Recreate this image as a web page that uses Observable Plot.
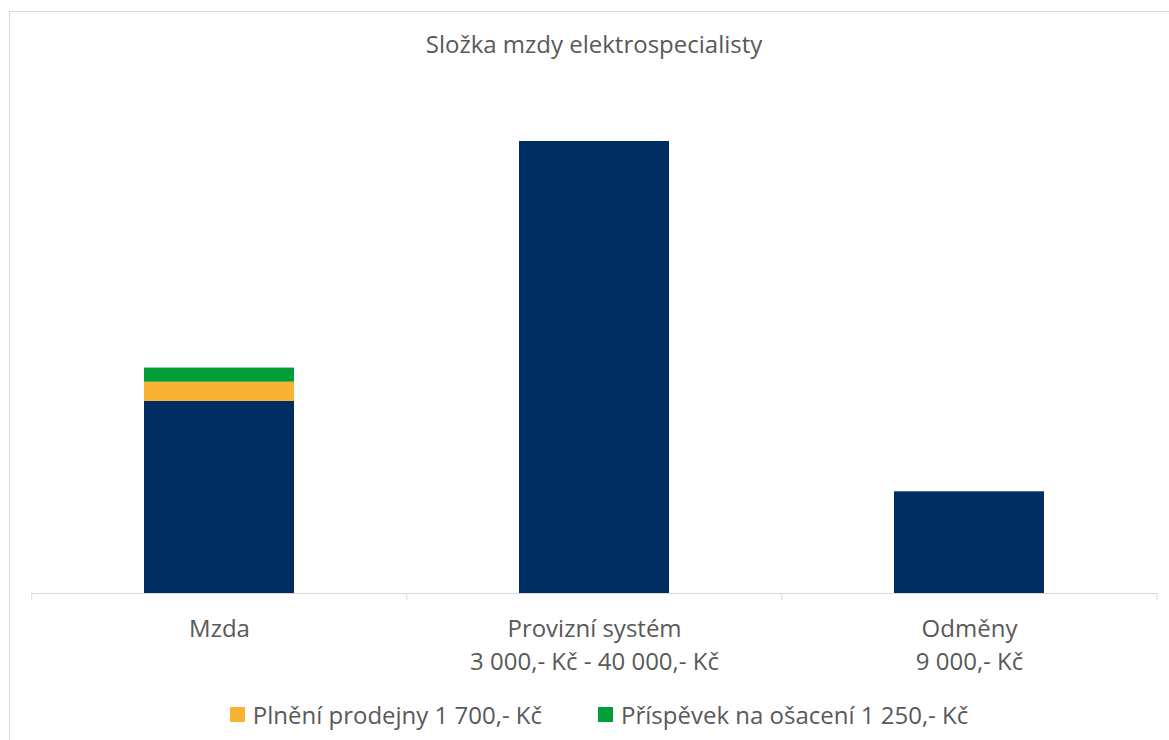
<!DOCTYPE html>
<html>
<head>
<meta charset="utf-8">
<script src="https://cdn.jsdelivr.net/npm/d3@7"></script>
<script src="https://cdn.jsdelivr.net/npm/@observablehq/plot@0.6"></script>
<style>
  html, body { margin: 0; padding: 0; background: #fff; overflow: hidden; width: 1169px; height: 740px; }
  body { position: relative; font-family: "Open Sans", sans-serif; color: #595959; }
  #frame { position: absolute; left: 9px; top: 11px; width: 1200px; height: 800px; border: 1px solid #d9d9d9; box-sizing: border-box; }
  #title { position: absolute; left: 31px; width: 1126px; top: 0; height: 80px; text-align: center; font-size: 24px; line-height: 1; }
  #title span { position: absolute; left: 0; right: 0; top: 32px; }
  #chart { position: absolute; left: 0; top: 80px; }
  #legend { position: absolute; left: 36px; width: 1126px; top: 697px; height: 34px; display: flex; justify-content: center; align-items: center; font-size: 24px; }
  .item { display: flex; align-items: center; margin: 0 28px; }
  .sw { width: 15px; height: 15px; margin-right: 8px; }
</style>
</head>
<body>
<div id="frame"></div>
<div id="title"><span></span></div>
<div id="chart"></div>
<div id="legend"></div>
<script>
const titleText = "Složka mzdy elektrospecialisty";
const categories = ["Mzda", "Provizní systém", "Odměny"];
const categoryLabels = ["Mzda", "Provizní systém\n3 000,- Kč - 40 000,- Kč", "Odměny\n9 000,- Kč"];
const seriesNames = ["Základ", "Plnění prodejny 1 700,- Kč", "Příspěvek na ošacení 1 250,- Kč"];
const seriesColors = ["#002d62", "#f8b332", "#009e36"];
const legendSeries = ["Plnění prodejny 1 700,- Kč", "Příspěvek na ošacení 1 250,- Kč"];
const baseValues = [17000, 40000, 9000];
const plneniValues = [1700, 0, 0];
const prispevekValues = [1250, 0, 0];

const rows = [];
categories.forEach((c, i) => {
  rows.push({category: c, series: seriesNames[0], value: baseValues[i]});
  rows.push({category: c, series: seriesNames[1], value: plneniValues[i]});
  rows.push({category: c, series: seriesNames[2], value: prispevekValues[i]});
});

const W = 1169, H = 610, mL = 31, mR = 12, mT = 61, mB = 97;
const step = (W - mL - mR) / categories.length;
const labelOf = new Map(categories.map((c, i) => [c, categoryLabels[i]]));

const chart = Plot.plot({
  width: W,
  height: H,
  marginLeft: mL,
  marginRight: mR,
  marginTop: mT,
  marginBottom: mB,
  style: {fontFamily: "'Open Sans', sans-serif", color: "#595959", background: "transparent"},
  x: {domain: categories, paddingInner: 0.6, paddingOuter: 0.3},
  y: {domain: [0, 40000], axis: null},
  color: {domain: seriesNames, range: seriesColors},
  marks: [
    Plot.barY(rows, {x: "category", y: "value", fill: "series"}),
    Plot.ruleY([0], {stroke: "#d9d9d9", strokeWidth: 1}),
    Plot.ruleX(categories, {x: d => d, y1: 0, y2: 0, dx: -step / 2, insetBottom: -7, stroke: "#d9d9d9"}),
    Plot.ruleX(categories.slice(-1), {x: d => d, y1: 0, y2: 0, dx: step / 2, insetBottom: -7, stroke: "#d9d9d9"}),
    Plot.axisX({tickSize: 0, tickPadding: 20, fontSize: 24, lineHeight: 1.375, tickFormat: d => labelOf.get(d), fill: "#595959", label: null})
  ]
});
document.getElementById("chart").appendChild(chart);
document.querySelector("#title span").textContent = titleText;

const legend = document.getElementById("legend");
legendSeries.forEach(name => {
  const it = document.createElement("div");
  it.className = "item";
  const sw = document.createElement("div");
  sw.className = "sw";
  sw.style.background = seriesColors[seriesNames.indexOf(name)];
  const tx = document.createElement("span");
  tx.textContent = name;
  it.appendChild(sw);
  it.appendChild(tx);
  legend.appendChild(it);
});
</script>
</body>
</html>
